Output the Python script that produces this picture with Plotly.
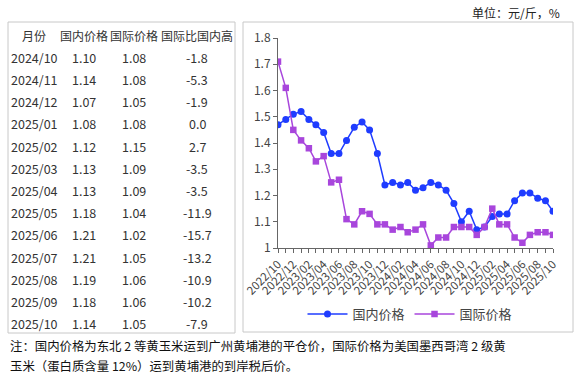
import plotly.graph_objects as go

months = [f"{y}-{m:02d}-01" for y in range(2022, 2026) for m in range(1, 13)]
months = months[months.index("2022-10-01"):months.index("2025-10-01") + 1]

domestic = [1.47, 1.49, 1.51, 1.52, 1.49, 1.47, 1.44, 1.36, 1.36, 1.41, 1.46, 1.48, 1.45,
            1.36, 1.24, 1.25, 1.24, 1.25, 1.22, 1.23, 1.25, 1.24, 1.22, 1.17, 1.10, 1.14,
            1.07, 1.08, 1.12, 1.13, 1.13, 1.18, 1.21, 1.21, 1.19, 1.18, 1.14]
international = [1.71, 1.61, 1.45, 1.41, 1.38, 1.33, 1.35, 1.25, 1.26, 1.11, 1.09, 1.14, 1.13,
                 1.09, 1.09, 1.07, 1.08, 1.06, 1.07, 1.09, 1.01, 1.04, 1.04, 1.08, 1.08, 1.08,
                 1.05, 1.08, 1.15, 1.09, 1.09, 1.04, 1.02, 1.05, 1.06, 1.06, 1.05]

table_header = ["月份", "国内价格", "国际价格", "国际比国内高"]
table_months = ["2024/10", "2024/11", "2024/12", "2025/01", "2025/02", "2025/03", "2025/04",
                "2025/05", "2025/06", "2025/07", "2025/08", "2025/09", "2025/10"]
table_dom = ["1.10", "1.14", "1.07", "1.08", "1.12", "1.13", "1.13", "1.18", "1.21", "1.21",
             "1.19", "1.18", "1.14"]
table_intl = ["1.08", "1.08", "1.05", "1.08", "1.15", "1.09", "1.09", "1.04", "1.02", "1.05",
              "1.06", "1.06", "1.05"]
table_diff = ["-1.8", "-5.3", "-1.9", "0.0", "2.7", "-3.5", "-3.5", "-11.9", "-15.7", "-13.2",
              "-10.9", "-10.2", "-7.9"]

W, H = 582, 378
L, R, T, B = 278, 553, 38, 248
PW, PH = R - L, B - T

def px(x):
    return (x - L) / PW

def py(y):
    return (B - y) / PH

BLUE = "#1f3cff"
PURPLE = "#a846dc"
FONT = "Noto Sans CJK SC"

fig = go.Figure()
fig.add_trace(go.Scatter(x=months, y=domestic, name="国内价格", mode="lines+markers",
                         line=dict(color=BLUE, width=1.5),
                         marker=dict(symbol="circle", size=7, color=BLUE)))
fig.add_trace(go.Scatter(x=months, y=international, name="国际价格", mode="lines+markers",
                         line=dict(color=PURPLE, width=1.5),
                         marker=dict(symbol="square", size=6.5, color=PURPLE)))

annotations = []
col_x = [34, 84, 134, 197]
tcolor = "#333333"
for cx, h in zip(col_x, table_header):
    annotations.append(dict(x=px(cx), y=py(35), xref="paper", yref="paper", text=h,
                            showarrow=False, xanchor="center", yanchor="middle",
                            font=dict(family=FONT, size=12, color=tcolor)))
for i in range(len(table_months)):
    yy = 57.3 + i * 22.2
    for cx, val in zip(col_x, [table_months[i], table_dom[i], table_intl[i], table_diff[i]]):
        annotations.append(dict(x=px(cx), y=py(yy), xref="paper", yref="paper", text=val,
                                showarrow=False, xanchor="center", yanchor="middle",
                                font=dict(family=FONT, size=12.5, color=tcolor)))

annotations.append(dict(x=px(562), y=py(12), xref="paper", yref="paper", text="单位：元/斤，%",
                        showarrow=False, xanchor="right", yanchor="middle",
                        font=dict(family=FONT, size=12, color="#222")))
annotations.append(dict(x=px(8), y=py(346), xref="paper", yref="paper",
                        text="注：国内价格为东北 2 等黄玉米运到广州黄埔港的平仓价，国际价格为美国墨西哥湾 2 级黄",
                        showarrow=False, xanchor="left", yanchor="middle",
                        font=dict(family=FONT, size=12.4, color="#111")))
annotations.append(dict(x=px(8), y=py(366), xref="paper", yref="paper",
                        text="玉米（蛋白质含量 12%）运到黄埔港的到岸税后价。",
                        showarrow=False, xanchor="left", yanchor="middle",
                        font=dict(family=FONT, size=12.4, color="#111")))

shapes = [
    dict(type="rect", xref="paper", yref="paper", x0=px(8), x1=px(235), y0=py(22), y1=py(333),
         line=dict(color="#c8c8c8", width=1)),
    dict(type="rect", xref="paper", yref="paper", x0=px(243), x1=px(573), y0=py(22), y1=py(332),
         line=dict(color="#c8c8c8", width=1)),
]

fig.update_layout(
    width=W, height=H,
    margin=dict(l=L, r=W - R, t=T, b=H - B, pad=0),
    paper_bgcolor="white", plot_bgcolor="white",
    font=dict(family=FONT, size=11, color="#444"),
    showlegend=True,
    legend=dict(orientation="h", x=px(410), y=py(314), xanchor="center", yanchor="middle",
                font=dict(family=FONT, size=13, color="#444"), itemwidth=40,
                bgcolor="rgba(0,0,0,0)"),
    annotations=annotations,
    shapes=shapes,
    xaxis=dict(type="date", range=["2022-10-01", "2025-10-01"], dtick="M2",
               tick0="2022-10-01", tickformat="%Y/%m", tickangle=-45,
               ticks="outside", ticklen=4, tickcolor="#666",
               minor=dict(dtick="M1", ticks="outside", ticklen=4, tickcolor="#666"),
               showline=True, linecolor="#666", linewidth=1, showgrid=False,
               tickfont=dict(family=FONT, size=11.5, color="#444"), zeroline=False),
    yaxis=dict(range=[1, 1.8], dtick=0.1, tick0=1, ticks="outside", ticklen=4,
               tickcolor="#666", showline=True, linecolor="#666", linewidth=1,
               showgrid=False, zeroline=False, tickformat="~g",
               tickfont=dict(family=FONT, size=12, color="#444")),
)

fig.write_html("out.html", config={"displayModeBar": False},
               post_script="document.body.style.margin='0';document.body.style.overflow='hidden';")
